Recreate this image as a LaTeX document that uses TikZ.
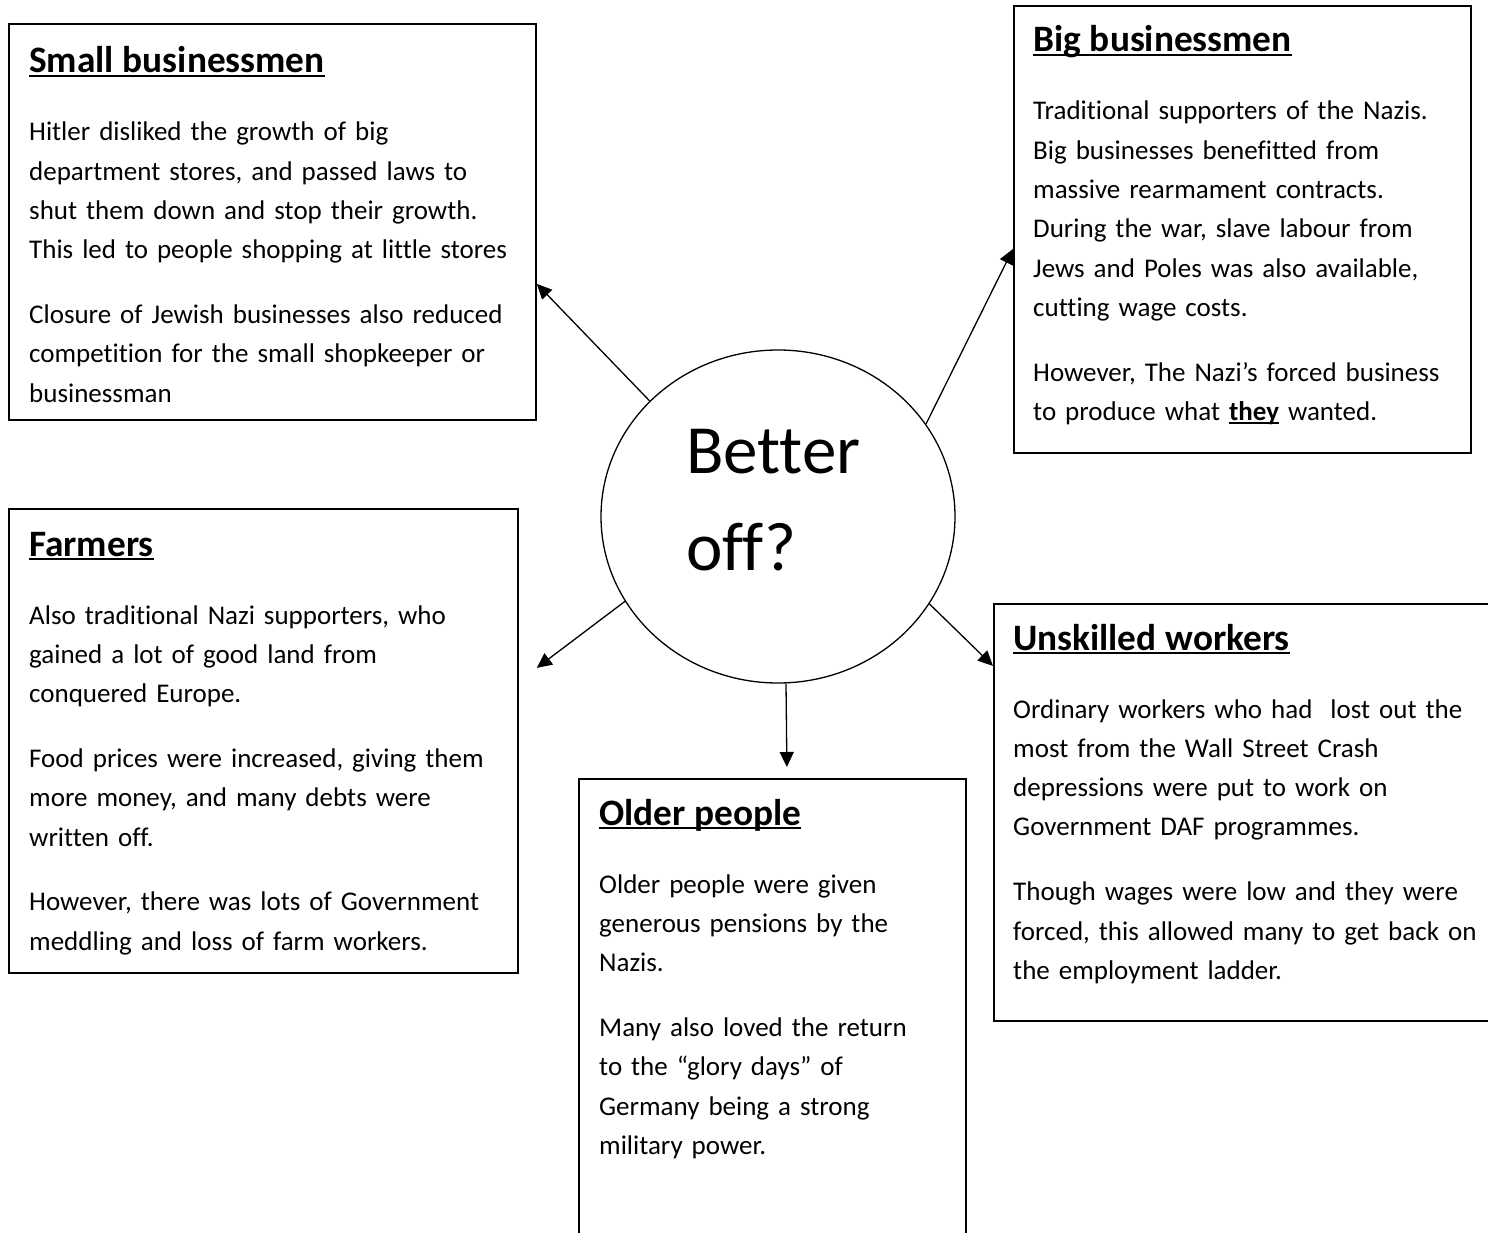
\documentclass[tikz,border=0pt]{standalone}
\usepackage{fontspec}
\setmainfont{Carlito}[Ligatures={NoCommon}]
\usetikzlibrary{positioning,arrows.meta,shapes.geometric}
\tikzset{
  card/.style    ={draw, line width=1.8pt, anchor=north west, inner sep=0pt},
  body/.style    ={anchor=base west, inner sep=0pt, align=left,
                   font=\fontsize{27}{39.3}\selectfont},
  hubshape/.style={ellipse, draw, line width=1.3pt, inner sep=0pt,
                   minimum width=354pt, minimum height=333pt},
  hubtext/.style ={anchor=base west, inner sep=0pt, align=left, text width=220pt,
                   font=\fontsize{69}{97}\selectfont},
  fl/.style      ={-{Triangle[length=15pt,width=14pt]}, line width=1.3pt}
}
\newcommand{\ulbox}[3]{\setbox0\hbox{#3}\rlap{\rule[#1]{\wd0}{#2}}\box0}
\newcommand{\hd}[1]{{\fontsize{37.3}{39.3}\selectfont\bfseries\ulbox{-4.4pt}{2.8pt}{#1}}\\[28.7pt]}
\newcommand{\gap}{\\[25.5pt]}

\begin{document}
\begin{tikzpicture}[x=1pt,y=-1pt]
  \clip (0,0) rectangle (1488,1233);

  % the five groups
  \node[card, minimum width=527pt, minimum height=396pt](small) at (8,23) {};
  \node[card, minimum width=457pt, minimum height=447pt](big) at (1013,5) {};
  \node[card, minimum width=509pt, minimum height=464pt](farmers) at (8,508) {};
  \node[card, minimum width=387pt, minimum height=480pt](older) at (578,778) {};
  \node[card, minimum width=520pt, minimum height=417pt](unsk) at (993,603) {};

  \node[body, text width=500pt](smallTxt) at (29,73){\hd{Small businessmen}
    Hitler disliked the growth of big\\
    department stores, and passed laws to\\
    shut them down and stop their growth.\\
    This led to people shopping at little stores\gap
    Closure of Jewish businesses also reduced\\
    competition for the small shopkeeper or\\
    businessman};
  \node[body, text width=430pt](bigTxt) at (1033,52){\hd{Big businessmen}
    Traditional supporters of the Nazis.\\
    Big businesses benefitted from\\
    massive rearmament contracts.\\
    During the war, slave labour from\\
    Jews and Poles was also available,\\
    cutting wage costs.\gap
    However, The Nazi’s forced business\\
    to produce what \textbf{\ulbox{-3.6pt}{2pt}{they}} wanted.};
  \node[body, text width=480pt](farmTxt) at (29,556){\hd{Farmers}
    Also traditional Nazi supporters, who\\
    gained a lot of good land from\\
    conquered Europe.\gap
    Food prices were increased, giving them\\
    more money, and many debts were\\
    written off.\gap
    However, there was lots of Government\\
    meddling and loss of farm workers.};
  \node[body, text width=360pt](oldTxt) at (599,825){\hd{Older people}
    Older people were given\\
    generous pensions by the\\
    Nazis.\gap
    Many also loved the return\\
    to the “glory days” of\\
    Germany being a strong\\
    military power.};
  \node[body, text width=495pt](unskTxt) at (1013,650){\hd{Unskilled workers}
    Ordinary workers who had\ \ lost out the\\
    most from the Wall Street Crash\\
    depressions were put to work on\\
    Government DAF programmes.\gap
    Though wages were low and they were\\
    forced, this allowed many to get back on\\
    the employment ladder.};

  % centre
  \node[hubshape](hub) at (778,516.5) {};
  \node[hubtext](hubTxt) at (686,473) {Better\\off?};

  \draw[fl](hub.138.1) -- ([yshift=-62pt]small.east);
  \draw[fl](hub.32.9) -- ([yshift=-19.5pt]big.west);
  \draw[fl](hub.209.2) -- ([xshift=18pt,yshift=73pt]farmers.east);
  \draw[fl]([xshift=8pt]hub.south) -- ([xshift=14.5pt,yshift=11pt]older.north);
  \draw[fl](hub.330.1) -- ([yshift=146.5pt]unsk.west);
\end{tikzpicture}
\end{document}
